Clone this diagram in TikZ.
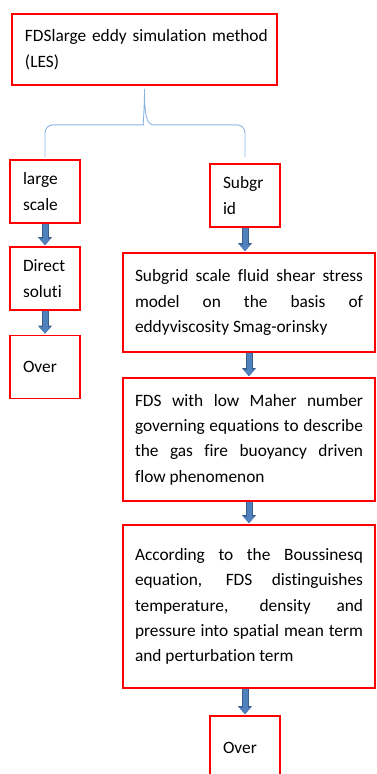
\documentclass[tikz,border=0pt]{standalone}
\usepackage{fontspec}
\setmainfont{Carlito}[Ligatures=NoCommon]
\usepackage{xcolor}
\usepackage{tikz}
\usetikzlibrary{arrows.meta, calc, positioning}

\definecolor{boxred}{RGB}{255,0,0}
\definecolor{arrowblue}{RGB}{79,129,189}
\definecolor{arrowedge}{RGB}{56,93,138}
\definecolor{bracecol}{RGB}{140,180,226}

\tolerance=10000
\hfuzz=20pt

\begin{document}
\begin{tikzpicture}[x=1bp,y=-1bp,
        box/.style={draw=boxred, line width=1.7bp, inner sep=0pt,
            font=\fontsize{17.4}{25.5}\selectfont},
        smallbox/.style={box, minimum width=70bp, minimum height=63bp,
            text width=44bp, align=left},
        bigbox/.style={box, minimum width=252bp, text width=228bp, align=justify},
        blockarrow/.style={arrowblue, line width=5bp,
            -{Triangle[width=11bp,length=6.5bp]}, shorten >=1bp,
            preaction={draw=arrowedge, line width=7bp,
                -{Triangle[width=13.5bp,length=8bp]}}},
        brace/.style={draw=bracecol, line width=0.9bp}]
        \useasboundingbox (0,0) rectangle (376,774);

        % Top box
        \node[box, minimum width=265bp, minimum height=71bp, text width=239bp,
            align=left] (les) at (144.5,49.5)
            {\mbox{FDSlarge eddy simulation method}\\(LES)};

        % Left branch
        \node[smallbox] (large) at (45,191.5) {large\\scale};
        \node[smallbox] (direct) at (45,278.5) {Direct\\soluti};
        \node[smallbox] (overl) at (45,367) {Over};

        % Right branch
        \node[smallbox] (subgrid) at (245,195.5) {Subgr\\id};
        \node[bigbox, minimum height=99bp] (model) at (249,302.5)
            {Subgrid scale fluid shear stress\linebreak
             model on the basis of\linebreak
             eddyviscosity Smag-orinsky};
        \node[bigbox, minimum height=123bp] (fds) at (249,439.5)
            {FDS with low Maher number\linebreak
             governing equations to describe\linebreak
             the gas fire buoyancy driven\linebreak
             flow phenomenon};
        \node[bigbox, minimum height=163bp] (acc) at (249,606.5)
            {According to the Boussinesq\linebreak
             equation, FDS distinguishes\linebreak
             temperature, density and\linebreak
             pressure into spatial mean term\linebreak
             and perturbation term};
        \node[smallbox] (overr) at (245,747.5) {Over};

        % Brace from the top box to both branches
        \coordinate (peak) at ($(les.south)+(0,3)$);
        \draw[brace] ($(large.north)+(0,-2)$) [rounded corners=8bp]
            |- ($(peak)+(-9,36)$) [sharp corners]
            .. controls ($(peak)+(-2,36)$) and ($(peak)+(0,26)$) .. (peak)
            .. controls ($(peak)+(0,26)$) and ($(peak)+(2,36)$) .. ($(peak)+(9,36)$)
            [rounded corners=8bp] -| ($(subgrid.north)+(0,-6)$);

        % Block arrows
        \foreach \a/\b in {large/direct, direct/overl, model/fds, fds/acc} {
            \draw[blockarrow] (\a.south) -- (\b.north);
        }
        \draw[blockarrow] (subgrid.south) -- (subgrid.south |- model.north);
        \draw[blockarrow] (overr.north |- acc.south) -- (overr.north);
    \end{tikzpicture}
\end{document}
